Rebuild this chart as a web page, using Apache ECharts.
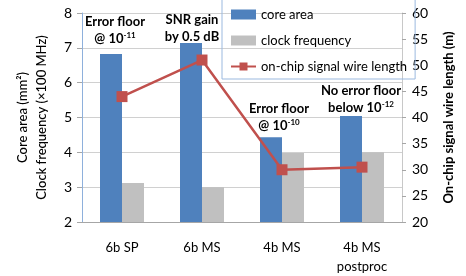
<!DOCTYPE html>
<html>
<head>
<meta charset="utf-8">
<script src="https://cdn.jsdelivr.net/npm/echarts@6/dist/echarts.min.js"></script>
<style>
  html, body { margin: 0; padding: 0; background: #fff; }
  #main { width: 466px; height: 276px; }
</style>
</head>
<body>
<div id="main"></div>
<script>
// data
var categories = ['6b SP', '6b MS', '4b MS', '4b MS\npostproc'];
var coreArea = [6.82, 7.14, 4.43, 5.04];
var clockFreq = [3.12, 3.0, 3.98, 4.0];
var wireLength = [44.0, 51.0, 30.0, 30.5];
var leftTicks = [2, 8, 1];   // min, max, interval
var rightTicks = [20, 60, 5];

var font = 'Lato, "Open Sans", sans-serif';
var myChart = echarts.init(document.getElementById('main'));

var supStyle = { fontSize: 8, fontWeight: 'bold', fontFamily: font, padding: [0, 0, 6, 0], fill: '#000' };
function note(x, y, line1, line2) {
  return {
    type: 'text',
    x: x, y: y,
    z: 10,
    style: {
      text: line1 + '\n' + line2,
      fontSize: 13, fontWeight: 'bold', fontFamily: font,
      fill: '#000',
      align: 'center', verticalAlign: 'middle',
      lineHeight: 17,
      rich: {
        sup: supStyle
      }
    }
  };
}

var option = {
  animation: false,
  textStyle: { fontFamily: font },
  color: ['#4f81bd', '#c0c0c0', '#c0504d'],
  grid: { left: 82, right: 64, top: 13, bottom: 54 },
  legend: {
    orient: 'vertical',
    left: 222, top: -1,
    padding: [9, 8, 6, 8],
    itemWidth: 25, itemHeight: 10, itemGap: 13,
    borderColor: '#9bb9df', borderWidth: 1,
    textStyle: { fontSize: 13, color: '#000', fontFamily: font },
    data: [
      { name: 'core area', icon: 'rect' },
      { name: 'clock frequency', icon: 'rect' },
      { name: 'on-chip signal wire length' }
    ]
  },
  xAxis: {
    type: 'category',
    data: categories,
    axisLine: { lineStyle: { color: '#a6a6a6' } },
    axisTick: { length: 5, lineStyle: { color: '#a6a6a6' } },
    axisLabel: { fontSize: 13, color: '#000', margin: 16, lineHeight: 19, fontFamily: font }
  },
  yAxis: [
    {
      type: 'value',
      min: leftTicks[0], max: leftTicks[1], interval: leftTicks[2],
      name: 'Core area (mm²)\nClock frequency (×100 MHz)',
      nameLocation: 'middle', nameGap: 31, nameRotate: 90,
      nameTextStyle: { fontSize: 13, color: '#000', lineHeight: 19, fontFamily: font, fontWeight: 500 },
      axisLine: { show: true, lineStyle: { color: '#8eb0dc' } },
      axisTick: { show: true, length: 5, lineStyle: { color: '#a6a6a6' } },
      axisLabel: { fontSize: 14, color: '#000', margin: 10, fontFamily: font },
      splitLine: { lineStyle: { color: '#d0d0d0' } }
    },
    {
      type: 'value',
      min: rightTicks[0], max: rightTicks[1], interval: rightTicks[2],
      name: 'On-chip signal wire length (m)',
      nameLocation: 'middle', nameGap: 40, nameRotate: 90,
      nameTextStyle: { fontSize: 13, color: '#000', fontWeight: 'bold', fontFamily: font, verticalAlign: 'top' },
      axisLine: { show: true, lineStyle: { color: '#c8c8c8' } },
      axisTick: { show: true, length: 4, lineStyle: { color: '#a6a6a6' } },
      axisLabel: { fontSize: 14, color: '#000', margin: 10, fontFamily: font },
      splitLine: { show: false }
    }
  ],
  series: [
    {
      name: 'core area', type: 'bar', yAxisIndex: 0,
      barWidth: 22, barGap: '0%',
      data: coreArea
    },
    {
      name: 'clock frequency', type: 'bar', yAxisIndex: 0,
      barWidth: 22, barGap: '0%',
      data: clockFreq
    },
    {
      name: 'on-chip signal wire length', type: 'line', yAxisIndex: 1,
      symbol: 'rect', symbolSize: 11,
      lineStyle: { width: 2.5, color: '#c0504d' },
      itemStyle: { color: '#c0504d' },
      data: wireLength,
      z: 5
    }
  ],
  graphic: [
    note(115, 30, 'Error floor', '@ 10{sup|-11}'),
    note(192, 28, 'SNR gain', 'by 0.5 dB'),
    note(279, 117, 'Error floor', '@ 10{sup|-10}'),
    note(361, 99, 'No error floor', 'below 10{sup|-12}')
  ]
};

myChart.setOption(option);
</script>
</body>
</html>
